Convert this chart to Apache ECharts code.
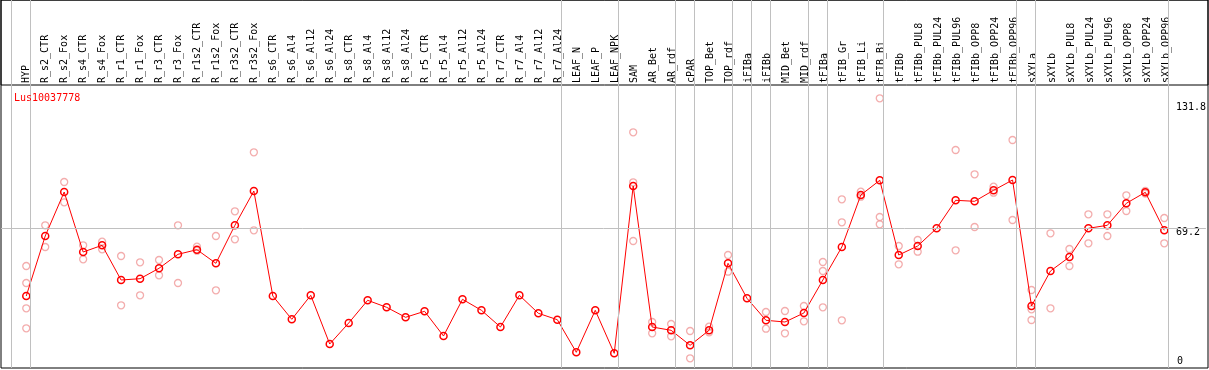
<!DOCTYPE html>
<html>
<head>
<meta charset="utf-8">
<script src="https://cdn.jsdelivr.net/npm/echarts@6/dist/echarts.min.js"></script>
<style>
html,body{margin:0;padding:0;background:#fff;}
#c{width:1209px;height:370px;}
</style>
</head>
<body>
<div id="c"></div>
<script>
var geneName = 'Lus10037778';
var categories = ['HYP','R_s2_CTR','R_s2_Fox','R_s4_CTR','R_s4_Fox','R_r1_CTR','R_r1_Fox','R_r3_CTR','R_r3_Fox','R_r1s2_CTR','R_r1s2_Fox','R_r3s2_CTR','R_r3s2_Fox','R_s6_CTR','R_s6_Al4','R_s6_Al12','R_s6_Al24','R_s8_CTR','R_s8_Al4','R_s8_Al12','R_s8_Al24','R_r5_CTR','R_r5_Al4','R_r5_Al12','R_r5_Al24','R_r7_CTR','R_r7_Al4','R_r7_Al12','R_r7_Al24','LEAF_N','LEAF_P','LEAF_NPK','SAM','AR_Bet','AR_rdf','cPAR','TOP_Bet','TOP_rdf','iFIBa','iFIBb','MID_Bet','MID_rdf','tFIBa','tFIB_Gr','tFIB_Li','tFIB_Bi','tFIBb','tFIBb_PUL8','tFIBb_PUL24','tFIBb_PUL96','tFIBb_OPP8','tFIBb_OPP24','tFIBb_OPP96','sXYLa','sXYLb','sXYLb_PUL8','sXYLb_PUL24','sXYLb_PUL96','sXYLb_OPP8','sXYLb_OPP24','sXYLb_OPP96'];
var means = [35.35,65.35,87.35,57.35,60.7,43.35,44.0,49.2,56.2,58.5,51.7,70.7,87.85,35.35,23.7,35.7,11.35,21.85,33.2,29.7,24.7,27.7,15.35,33.7,28.2,19.85,35.7,26.7,23.5,7.2,28.2,6.7,90.35,19.85,18.2,10.7,18.2,51.7,34.2,23.2,22.35,26.85,43.35,59.85,85.85,93.2,55.85,60.35,69.2,83.2,82.7,88.2,93.35,30.35,47.85,54.85,69.2,70.7,81.7,87.2,68.2];
var replicates = [
  [50.35,41.85,29.2,19.2],[70.7,59.85],[92.35,82.2],[60.7,53.7],[62.5,58.7],[55.35,30.7],[52.2,35.7],[53.35,45.7],[70.7,41.85],[60.0,58.0],[65.35,38.2],[77.7,63.7],[107.2,68.2],
  [],[],[],[],[],[],[],[],[],[],[],[],[],[],[],[],[],[],[],
  [117.2,92.2,62.85],[22.35,16.7],[21.35,15.2],[17.85,4.2],[20.0,17.2],[55.85,47.5],[],[27.35,19.0],[27.85,16.7],[30.35,22.7],
  [52.35,47.85,29.7],[83.7,72.2,23.2],[87.5,85.0],[134.2,74.85,71.2],
  [60.35,51.2],[63.35,57.5],[],[108.35,58.2],[96.2,69.85],[90.0,87.0],[113.35,73.35],
  [38.35,28.7,23.35],[66.7,29.2],[58.85,50.35],[76.2,61.7],[76.2,65.35],[85.7,77.85],[87.85,86.6],[74.35,61.7]
];
// group separators: drawn just after these category indices (-1 = before first)
var separatorAfter = [-1,0,28,31,34,35,37,38,39,41,42,45,52,53,60];
var refLineValue = 69.2;
var yTickLabels = [69.2,131.8];
var yZeroLabel = [0];

var repData = [];
replicates.forEach(function(arr,i){ arr.forEach(function(v){ repData.push([i,v]); }); });
var meanData = means.map(function(v,i){ return [i,v]; });
var sepOffset = 0.21;
var FONT = 'DejaVu Sans Mono';

var chart = echarts.init(document.getElementById('c'), null, {renderer:'canvas'});
chart.setOption({
  animation:false,
  backgroundColor:'#fff',
  title:{text:geneName,left:9,top:88,textStyle:{color:'#ff0000',fontSize:10,fontWeight:'normal',fontFamily:FONT}},
  grid:[
    {left:1,right:1,top:0,bottom:2,show:false},
    {left:26.3,right:42.7,top:85,height:10,show:false},
    {left:1,right:1,top:0,bottom:2,show:true,borderColor:'#000',borderWidth:1,backgroundColor:'transparent'},
    {left:1,right:1,top:0,height:85,show:true,borderColor:'#000',borderWidth:1,backgroundColor:'transparent'}
  ],
  xAxis:[
    {type:'value',gridIndex:0,min:(1-26.3)/19,max:(1208-26.3)/19,show:false},
    {type:'category',gridIndex:1,data:categories,position:'top',boundaryGap:false,
     axisLine:{show:false},axisTick:{show:false},splitLine:{show:false},
     axisLabel:{rotate:90,interval:0,margin:2,fontSize:10,fontFamily:FONT,color:'#000'}}
  ],
  yAxis:[
    {type:'value',gridIndex:0,min:-0.65,max:183.35,position:'right',
     axisLine:{show:false},axisTick:{show:false},splitLine:{show:false},
     axisLabel:{show:true,inside:true,customValues:yTickLabels,align:'left',verticalAlign:'top',margin:30,
       fontSize:10,fontFamily:FONT,color:'#000',padding:[-1,0,0,0]}},
    {type:'value',gridIndex:0,min:-0.65,max:183.35,position:'right',
     axisLine:{show:false},axisTick:{show:false},splitLine:{show:false},
     axisLabel:{show:true,inside:true,customValues:yZeroLabel,align:'left',verticalAlign:'bottom',margin:29,
       fontSize:10,fontFamily:FONT,color:'#000'}},
    {type:'value',gridIndex:1,show:false}
  ],
  series:[
    {type:'line',xAxisIndex:0,yAxisIndex:0,data:[],z:1,silent:true,
     markLine:{silent:true,symbol:['none','none'],label:{show:false},animation:false,
       lineStyle:{color:'#c0c0c0',width:1,type:'solid'},
       data:separatorAfter.map(function(i){return {xAxis:i+sepOffset};}).concat([{yAxis:refLineValue}])}},
    {type:'scatter',xAxisIndex:0,yAxisIndex:0,data:repData,symbol:'circle',symbolSize:7,z:2,
     itemStyle:{color:'rgba(0,0,0,0)',borderColor:'#f09898',borderWidth:1.3}},
    {type:'line',xAxisIndex:0,yAxisIndex:0,data:meanData,symbol:'circle',symbolSize:7,showAllSymbol:true,z:3,
     lineStyle:{color:'#ff0000',width:1},
     itemStyle:{color:'rgba(0,0,0,0)',borderColor:'#ff0000',borderWidth:1.5}}
  ]
});
</script>
</body>
</html>
